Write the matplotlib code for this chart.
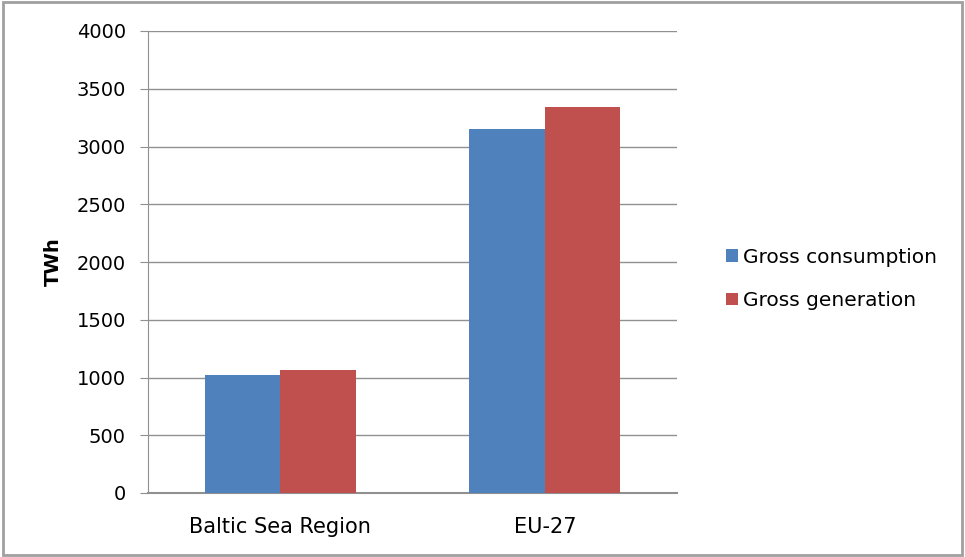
import numpy as np
import matplotlib.pyplot as plt
from matplotlib.patches import Rectangle

categories = ['Baltic Sea Region', 'EU-27']
consumption = [1025, 3150]
generation = [1065, 3345]
series_names = ['Gross consumption', 'Gross generation']
yticks = [0, 500, 1000, 1500, 2000, 2500, 3000, 3500, 4000]

plt.rcParams['font.family'] = ['DejaVu Sans']
fig = plt.figure(figsize=(9.65, 5.57), dpi=100)
# outer frame
fig.patches.append(Rectangle((0.003, 0.003), 0.994, 0.994, transform=fig.transFigure,
                             fill=False, edgecolor='#a0a0a0', linewidth=2))

ax = fig.add_axes([148/965, 1-493/557, (677-148)/965, (493-31)/557])
x = np.arange(len(categories))
w = 0.285
ax.bar(x - w/2, consumption, w, color='#4F81BD', label=series_names[0], zorder=3)
ax.bar(x + w/2, generation, w, color='#C0504D', label=series_names[1], zorder=3)

ax.set_xlim(-0.5, 1.5)
ax.set_ylim(0, 4000)
ax.set_yticks(yticks)
ax.set_yticklabels([str(t) for t in yticks], fontsize=14)
ax.set_xticks(x)
ax.set_xticklabels(categories, fontsize=15)
ax.tick_params(axis='x', length=0, pad=17)
ax.tick_params(axis='y', length=6, color='#909090', pad=10)
ax.grid(axis='y', color='#909090', linewidth=1, zorder=0)
for s in ['top', 'right']:
    ax.spines[s].set_visible(False)
ax.spines['left'].set_color('#909090')
ax.spines['bottom'].set_color('#909090')
ax.spines['bottom'].set_linewidth(1.5)
ax.set_ylabel('TWh', fontsize=14, fontweight='bold', labelpad=10)

fig.legend(loc='center left', bbox_to_anchor=(708/965, 1-279/557), frameon=False,
           fontsize=14.5, handlelength=0.6, handleheight=0.6, handletextpad=0.25,
           labelspacing=1.2)

fig.savefig('out.png', dpi=100)
